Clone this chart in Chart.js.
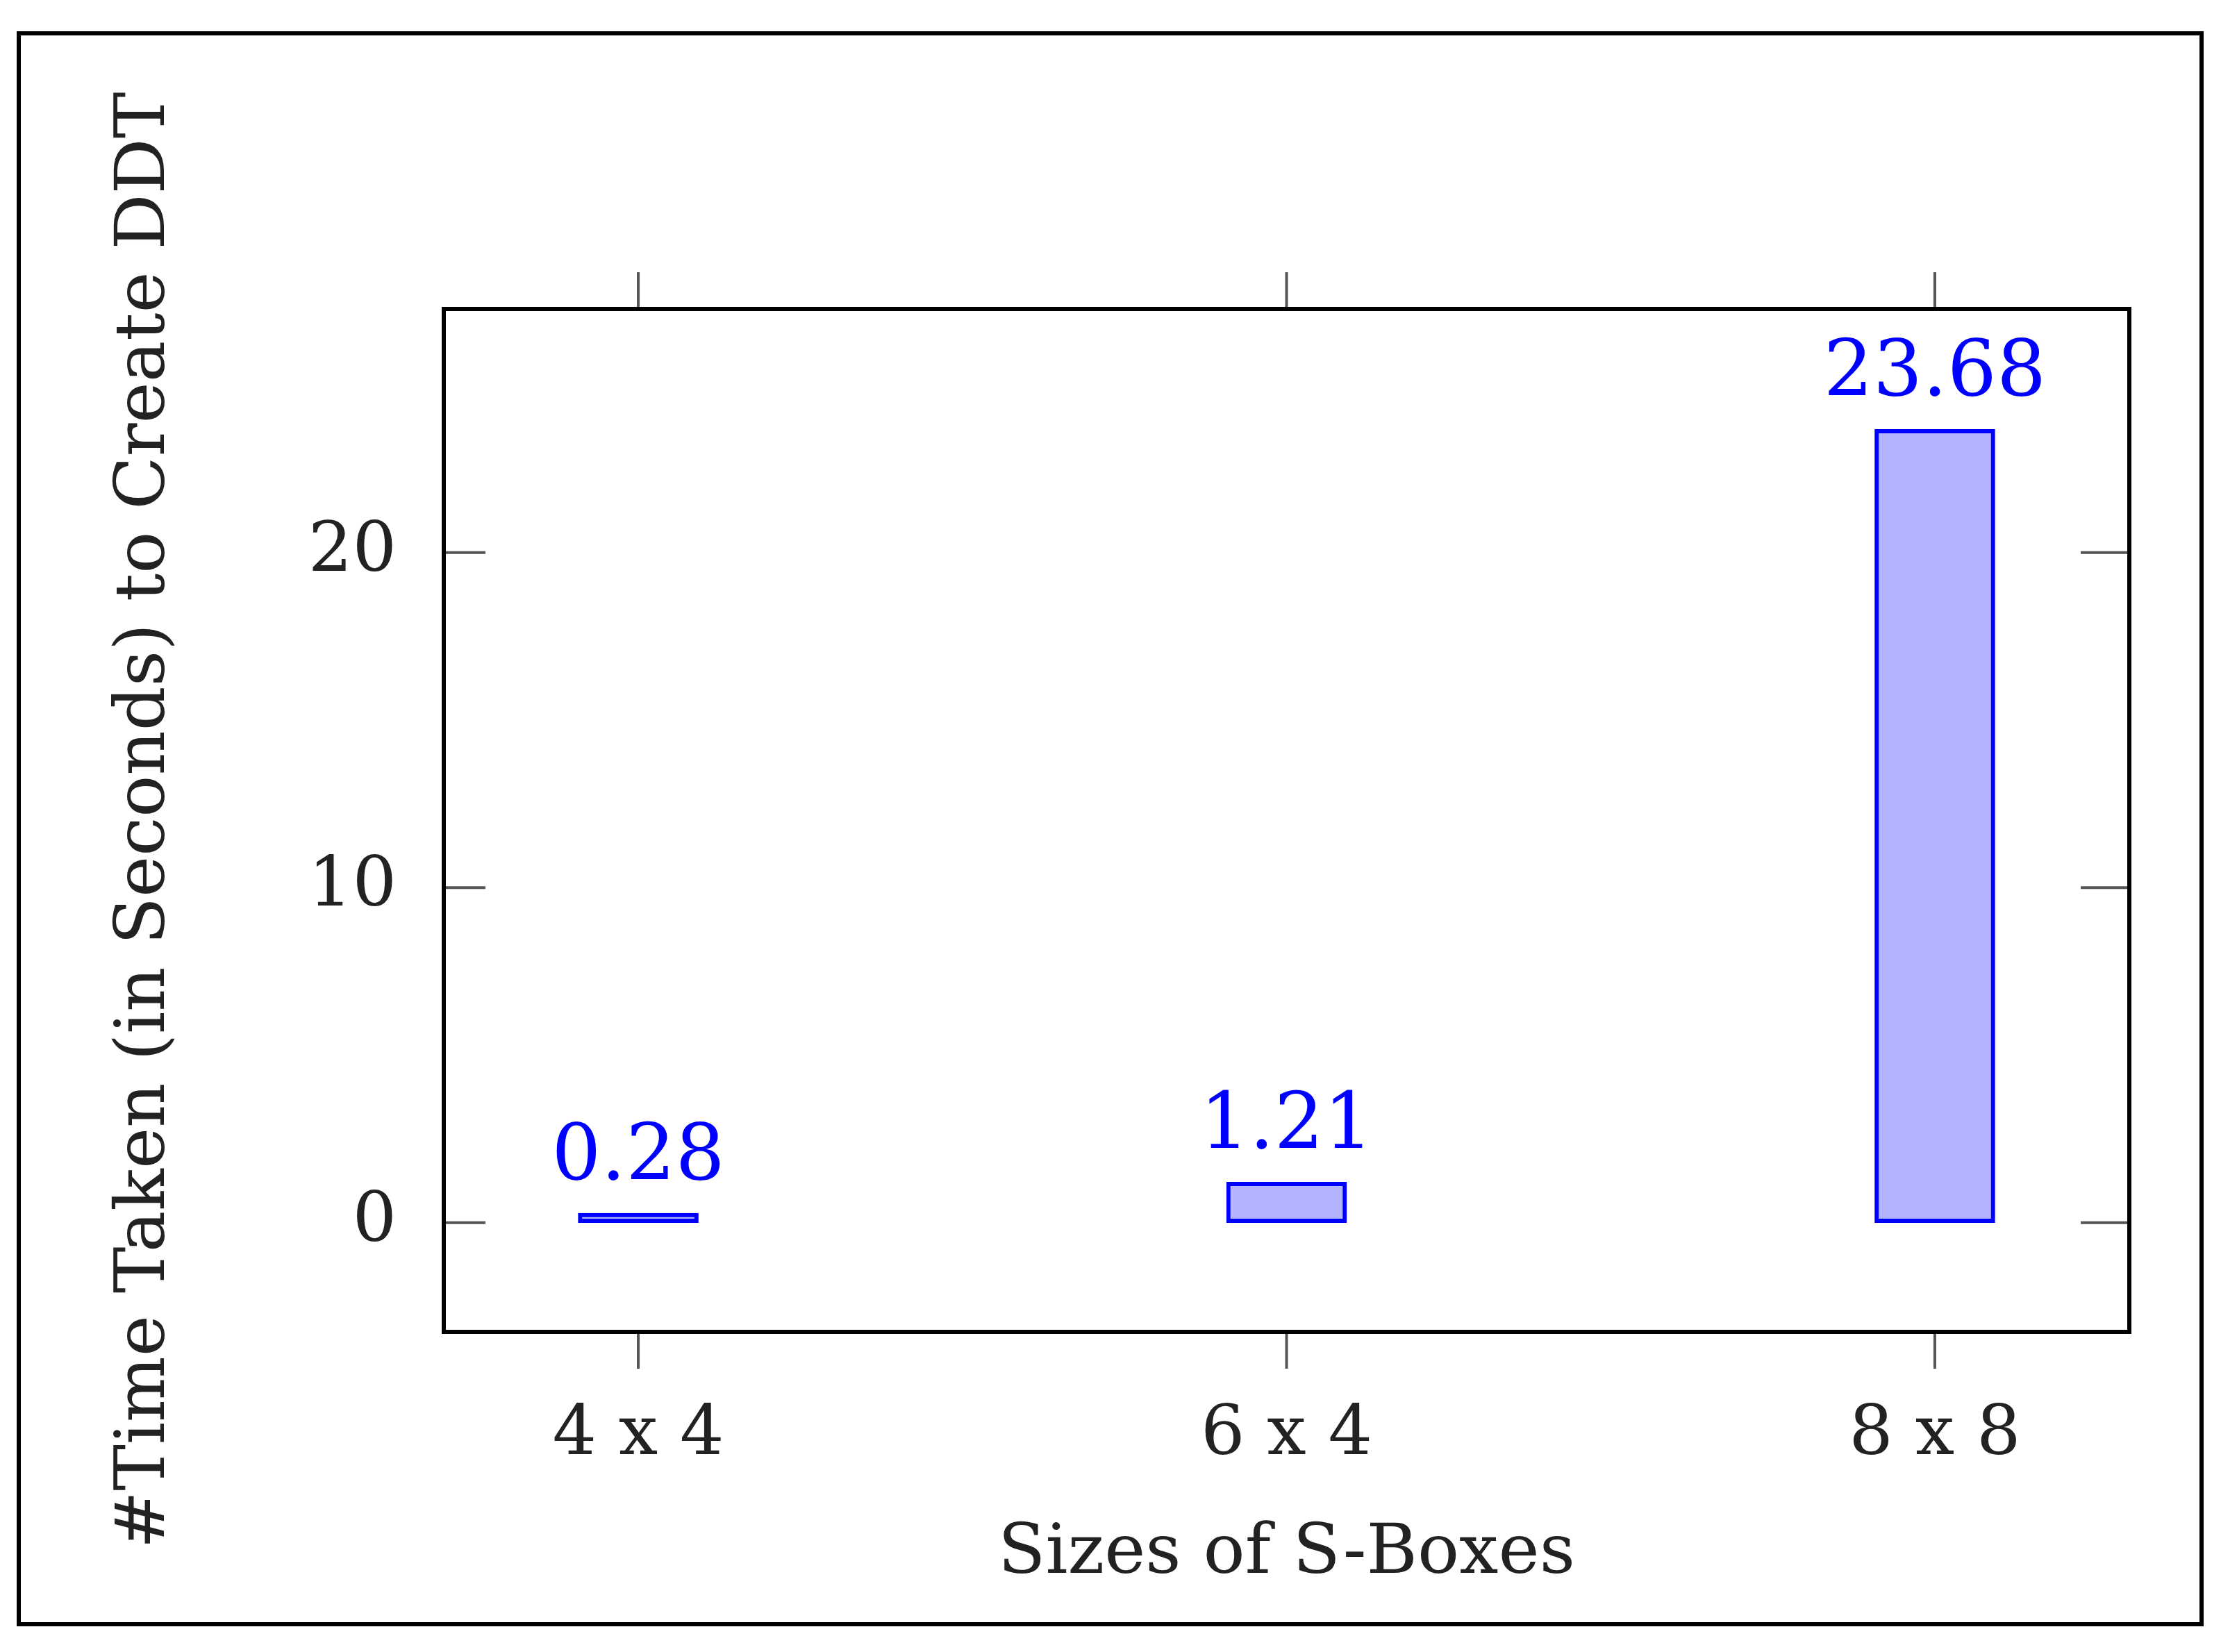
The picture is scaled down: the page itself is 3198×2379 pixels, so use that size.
<!DOCTYPE html>
<html><head><meta charset="utf-8">
<script src="https://cdn.jsdelivr.net/npm/chart.js@4"></script>
<style>html,body{margin:0;padding:0;background:#fff}#wrap{position:relative;width:3198px;height:2379px}</style>
</head><body><div id="wrap"><canvas id="c" width="3198" height="2379"></canvas></div>
<script>
const categories = ["4 x 4", "6 x 4", "8 x 8"];
const values = [0.28, 1.21, 23.68];
const valueLabels = ["0.28", "1.21", "23.68"];
const yTicks = [0, 10, 20];
const FONT = "'DejaVu Serif', 'Liberation Serif', serif";

const deco = {
  id: 'deco',
  afterDraw(chart) {
    const ctx = chart.ctx, a = chart.chartArea, xs = chart.scales.x, ys = chart.scales.y;
    ctx.save();
    ctx.strokeStyle = '#000'; ctx.lineWidth = 6;
    ctx.strokeRect(27, 48, 3143, 2291);
    ctx.strokeStyle = '#555'; ctx.lineWidth = 4;
    ctx.beginPath();
    categories.forEach((c, i) => {
      const x = xs.getPixelForValue(i);
      ctx.moveTo(x, a.top); ctx.lineTo(x, a.top - 53);
      ctx.moveTo(x, a.bottom); ctx.lineTo(x, a.bottom + 53);
    });
    yTicks.forEach(v => {
      const y = ys.getPixelForValue(v);
      ctx.moveTo(a.left, y); ctx.lineTo(a.left + 60, y);
      ctx.moveTo(a.right, y); ctx.lineTo(a.right - 70, y);
    });
    ctx.stroke();
    ctx.strokeStyle = '#000'; ctx.lineWidth = 6;
    ctx.strokeRect(a.left, a.top, a.right - a.left, a.bottom - a.top);
    ctx.fillStyle = '#0000ff'; ctx.font = '112px ' + FONT;
    ctx.textAlign = 'center'; ctx.textBaseline = 'bottom';
    values.forEach((v, i) => {
      ctx.fillText(valueLabels[i], xs.getPixelForValue(i), ys.getPixelForValue(v) - 22);
    });
    ctx.restore();
  }
};

new Chart(document.getElementById('c'), {
  type: 'bar',
  data: { datasets: [{
    data: values.map((v, i) => ({ x: i, y: v })),
    backgroundColor: '#b3b3ff', borderColor: '#0000ff', borderWidth: 6,
    barThickness: 173, borderSkipped: false
  }]},
  options: {
    responsive: false, animation: false, devicePixelRatio: 1,
    layout: { padding: { left: 0, right: 132, top: 445, bottom: 0 } },
    plugins: { legend: { display: false }, tooltip: { enabled: false } },
    scales: {
      x: {
        type: 'linear', min: -0.3, max: 2.3, offset: false,
        grid: { display: false, drawTicks: false, offset: false }, border: { display: false },
        afterBuildTicks: s => { s.ticks = categories.map((c, i) => ({ value: i })); },
        afterFit: s => { s.height = 461; },
        ticks: { padding: 90, color: '#222', font: { family: FONT, size: 100 },
                 callback: v => categories[v] },
        title: { display: true, text: 'Sizes of S-Boxes', color: '#222',
                 font: { family: FONT, size: 100 }, padding: { top: 80, bottom: 80 } }
      },
      y: {
        min: -3.26, max: 27.27,
        grid: { display: false, drawTicks: false }, border: { display: false },
        afterBuildTicks: s => { s.ticks = yTicks.map(v => ({ value: v })); },
        afterFit: s => { s.width = 639; },
        ticks: { padding: 68, color: '#222', font: { family: FONT, size: 100 } },
        title: { display: true, text: '#Time Taken (in Seconds) to Create DDT', color: '#222',
                 font: { family: FONT, size: 100 }, padding: { top: 150, bottom: 150 } }
      }
    }
  },
  plugins: [deco]
});
</script></body></html>
